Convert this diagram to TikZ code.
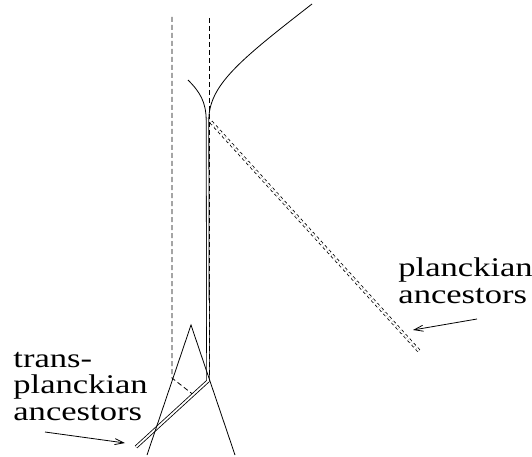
\documentclass[tikz,border=0pt]{standalone}
\usepackage{fontspec}
\setmainfont{Liberation Serif}[FakeStretch=1.28]
\usetikzlibrary{arrows.meta}
\begin{document}
\begin{tikzpicture}[x=1pt,y=-1pt,line width=.8pt,>={Straight Barb[length=9pt,width=6pt]},
  line join=miter,font=\fontsize{27}{26.5}\selectfont,
  guide/.style={dash pattern=on 5pt off 3pt},
  ray/.style={double,double distance=1.8pt},
  pray/.style={double,double distance=2pt,dash pattern=on 3pt off 3pt}]
  \useasboundingbox (0,0) rectangle (532,457);
  % dashed guides
  \draw[guide] (172,17)--(172,378)--(195,396);
  \draw[guide] (209.5,18)--(209.5,378);
  % the two branches near the cusp
  \draw (188,80) .. controls (200,92) and (206,102) .. (206.2,120);
  \draw (312,4) .. controls (240,60) and (209,85) .. (208.8,120);
  % trans-planckian ray: down the horizon, then out
  \coordinate (cusp) at (207.5,119);
  \coordinate (bend) at (208,381);
  \coordinate (tend) at (136,447);
  \draw[ray] (cusp)--(bend)--(tend);
  % planckian ray
  \coordinate (pstart) at (211,122);
  \coordinate (pend) at (419,351);
  \draw[pray] (pstart)--(pend);
  % light cone
  \draw (147,455)--(191,325)--(235,455);
  % labels
  \node[anchor=base west,align=left,inner sep=0] (planck) at (398,303) {planckian\\ancestors};
  \node[anchor=base west,align=left,inner sep=0] (trans) at (13,420) {trans-\\planckian\\ancestors};
  \coordinate (ptail) at (477,319);
  \coordinate (phead) at (413,330);
  \draw[->] (ptail)--(phead);
  \coordinate (ttail) at (45,432);
  \coordinate (thead) at (125,443);
  \draw[->] (ttail)--(thead);
\end{tikzpicture}
\end{document}
